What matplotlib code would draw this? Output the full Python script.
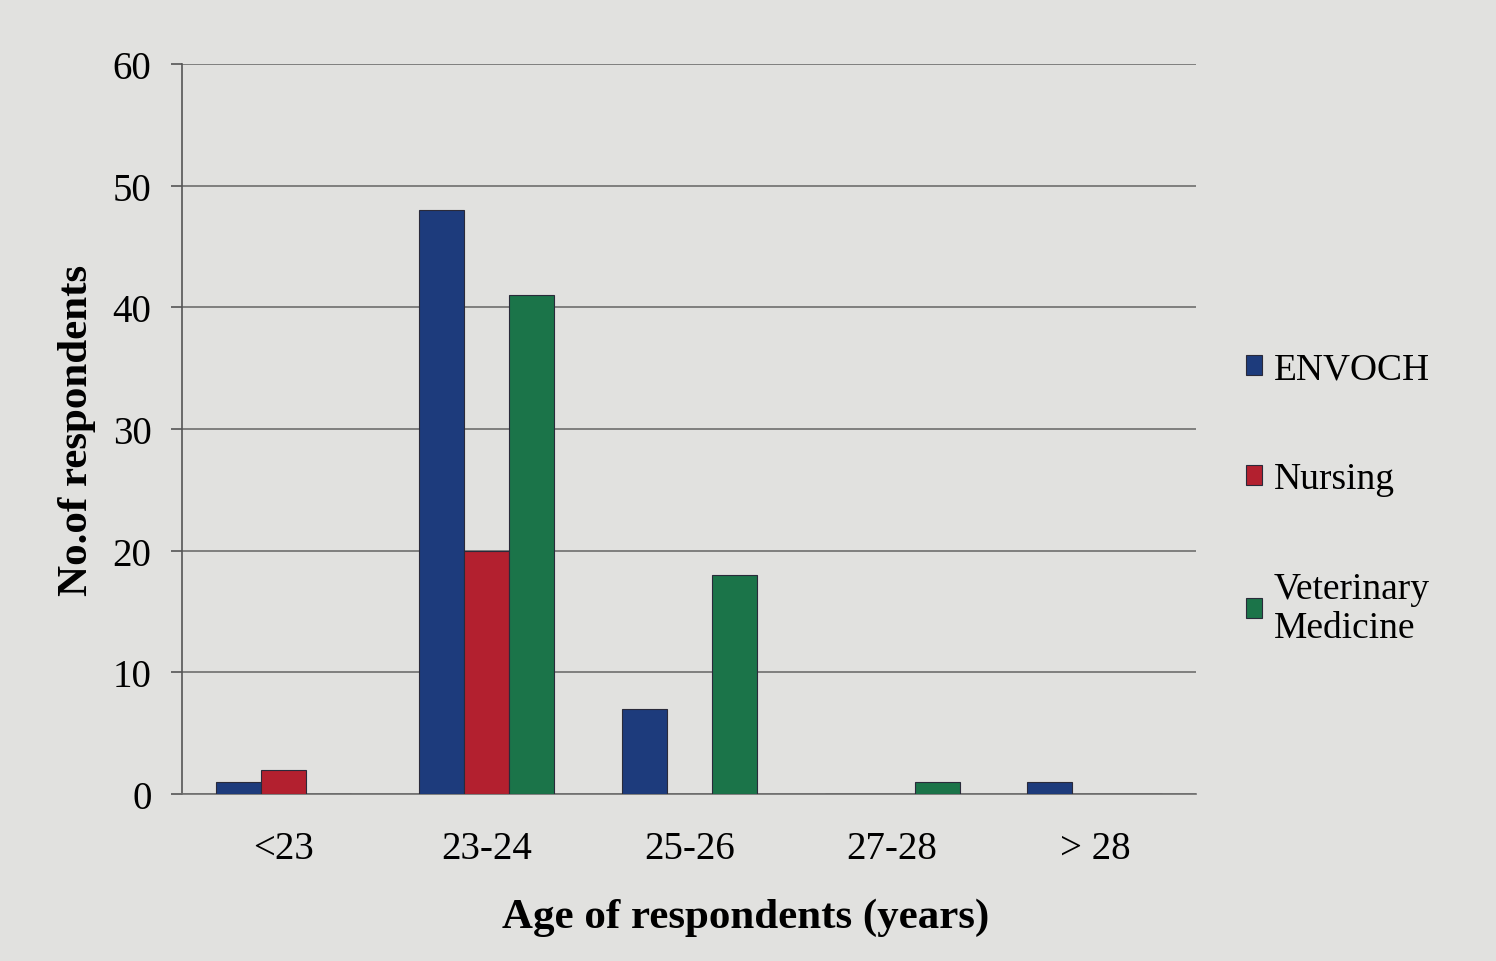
import numpy as np
import matplotlib.pyplot as plt

categories = ["<23", "23-24", "25-26", "27-28", "> 28"]
envoch = [1, 48, 7, 0, 1]
nursing = [2, 20, 0, 0, 0]
vet_med = [0, 41, 18, 1, 0]

series_names = ["ENVOCH", "Nursing", "Veterinary\nMedicine"]
colors = ["#1d3b7c", "#b3202f", "#1b7449"]

plt.rcParams["font.family"] = ["Liberation Serif", "DejaVu Serif"]

fig = plt.figure(figsize=(14.96, 9.62), dpi=100, facecolor="#e1e1df")
ax = fig.add_axes([0.1217, 0.1736, 0.678, 0.7588])
ax.set_facecolor("#e1e1df")

x = np.arange(len(categories))
w = 0.222
for i, (vals, name, c) in enumerate(zip([envoch, nursing, vet_med], series_names, colors)):
    ax.bar(x + (i - 1) * w, vals, width=w, color=c, edgecolor="#2a2a3a",
           linewidth=0.8, label=name, zorder=3)

ax.set_xlim(-0.5, len(categories) - 0.5)
ax.set_ylim(0, 60)
ax.set_yticks(range(0, 61, 10))
ax.yaxis.grid(True, color="#6e6e6e", linewidth=1.2, zorder=0)
ax.set_xticks(x)
ax.set_xticklabels(categories)
ax.tick_params(axis="x", length=0, pad=26, labelsize=28)
ax.tick_params(axis="y", length=8, width=1.2, color="#555555", pad=14, labelsize=28)

for s in ["top", "right"]:
    ax.spines[s].set_visible(False)
ax.spines["left"].set_color("#555555")
ax.spines["bottom"].set_color("#6e6e6e")
ax.spines["left"].set_linewidth(1.2)
ax.spines["bottom"].set_linewidth(1.2)

ax.set_xlabel("Age of respondents (years)", fontsize=31, fontweight="bold")
ax.xaxis.set_label_coords(0.556, -0.142)
ax.set_ylabel("No.of respondents", fontsize=31, fontweight="bold", labelpad=12)

leg = fig.legend(loc="upper left", bbox_to_anchor=(0.81, 0.668), frameon=False,
                 fontsize=27, handlelength=0.45, handleheight=0.45, handletextpad=0.3,
                 labelspacing=2.0)

fig.savefig("out.png", dpi=100, facecolor=fig.get_facecolor())
